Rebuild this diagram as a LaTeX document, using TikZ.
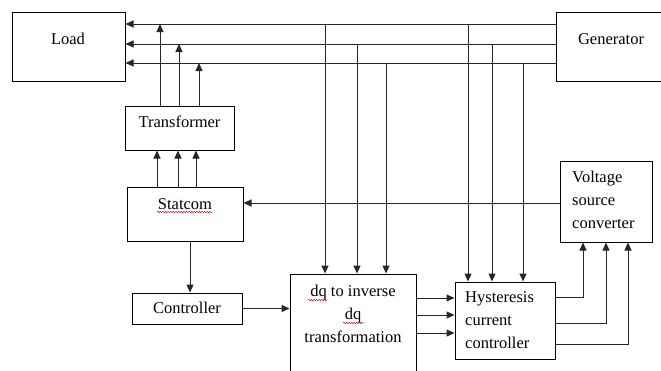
\documentclass[tikz,border=0pt]{standalone}
\usepackage{fontspec}
\setmainfont{Liberation Serif}
\usetikzlibrary{arrows.meta,decorations.pathmorphing}
\begin{document}
\begin{tikzpicture}[x=1pt,y=-1pt,
  blk/.style={draw=black,line width=1pt,rectangle,inner sep=0pt,minimum width=#1},
  txt/.style={font=\fontsize{16.5}{23}\selectfont,inner sep=0pt,align=center},
  ltxt/.style={font=\fontsize{16.5}{23}\selectfont,inner sep=0pt,align=left},
  wire/.style={line width=1pt,draw=black!85},
  arr/.style={wire,-{Triangle[length=8pt,width=7pt]}},
  spell/.style={draw=red!85!black,line width=0.45pt,decorate,decoration={snake,amplitude=0.7pt,segment length=2.6pt}}]
\useasboundingbox (0,0) rectangle (661,370);
\fill[white] (0,0) rectangle (661,370);
% blocks
\node[blk=113pt,minimum height=69pt] (load) at (68.5,46.5) {};
\node[blk=109pt,minimum height=69pt] (gen) at (610.5,46.5) {};
\node[blk=109pt,minimum height=44pt] (trans) at (179.5,128) {};
\node[blk=116pt,minimum height=54pt] (stat) at (185,214) {};
\node[blk=110pt,minimum height=31pt] (ctrl) at (187,308.5) {};
\node[blk=126pt,minimum height=110pt] (dq) at (353,329) {};
\node[blk=100pt,minimum height=77pt] (hyst) at (505,320.5) {};
\node[blk=92pt,minimum height=81pt] (vsc) at (606,201.5) {};
% texts
\node[txt] (loadt) at (68,39) {Load};
\node[txt] (gent) at (611,39) {Generator};
\node[txt] (transt) at (179.5,122) {Transformer};
\node[txt] (statt) at (185,204) {Statcom};
\node[txt] (ctrlt) at (187,308) {Controller};
\node[txt] (dqt) at (353,314) {dq to inverse\\dq\\transformation};
\node[ltxt,anchor=west] (hystt) at (465,320.5) {Hysteresis\\current\\controller};
\node[ltxt,anchor=west] (vsct) at (572,200) {Voltage\\source\\converter};
% spell-check marks
\draw[spell] (157,212) -- (213,212);
\draw[spell] (308,300) -- (327,300);
\draw[spell] (343,323) -- (363,323);
% bus levels
\coordinate (b1) at (0,24);
\coordinate (b2) at (0,44);
\coordinate (b3) at (0,63);
\draw[arr] (gen.west |- b1) -- (load.east |- b1);
\draw[arr] (gen.west |- b2) -- (load.east |- b2);
\draw[arr] (gen.west |- b3) -- (load.east |- b3);
% transformer to bus
\coordinate (t1) at (160,24);
\coordinate (t2) at (179,44);
\coordinate (t3) at (199,63);
\draw[arr] (trans.north -| t1) -- (t1);
\draw[arr] (trans.north -| t2) -- (t2);
\draw[arr] (trans.north -| t3) -- (t3);
% statcom to transformer
\coordinate (s1) at (157,0);
\coordinate (s2) at (178,0);
\coordinate (s3) at (196,0);
\draw[arr] (stat.north -| s1) -- (trans.south -| s1);
\draw[arr] (stat.north -| s2) -- (trans.south -| s2);
\draw[arr] (stat.north -| s3) -- (trans.south -| s3);
% bus to dq
\coordinate (d1) at (325,24);
\coordinate (d2) at (357,44);
\coordinate (d3) at (386,63);
\draw[arr] (d1) -- (dq.north -| d1);
\draw[arr] (d2) -- (dq.north -| d2);
\draw[arr] (d3) -- (dq.north -| d3);
% bus to hysteresis
\coordinate (h1) at (468,24);
\coordinate (h2) at (492,44);
\coordinate (h3) at (523,63);
\draw[arr] (h1) -- (hyst.north -| h1);
\draw[arr] (h2) -- (hyst.north -| h2);
\draw[arr] (h3) -- (hyst.north -| h3);
% vsc to statcom
\coordinate (vs) at (0,203);
\draw[arr] (vsc.west |- vs) -- (stat.east |- vs);
% statcom to controller
\coordinate (sc) at (190,0);
\draw[arr] (stat.south -| sc) -- (ctrl.north -| sc);
% controller to dq
\draw[arr] (ctrl.east) -- (dq.west |- ctrl.east);
% dq to hysteresis
\coordinate (q1) at (0,298);
\coordinate (q2) at (0,315);
\coordinate (q3) at (0,333);
\draw[arr] (dq.east |- q1) -- (hyst.west |- q1);
\draw[arr] (dq.east |- q2) -- (hyst.west |- q2);
\draw[arr] (dq.east |- q3) -- (hyst.west |- q3);
% hysteresis to vsc
\coordinate (v1) at (583,297);
\coordinate (v2) at (606,323);
\coordinate (v3) at (628,344);
\draw[arr] (hyst.east |- v1) -| (vsc.south -| v1);
\draw[arr] (hyst.east |- v2) -| (vsc.south -| v2);
\draw[arr] (hyst.east |- v3) -| (vsc.south -| v3);
\end{tikzpicture}
\end{document}
